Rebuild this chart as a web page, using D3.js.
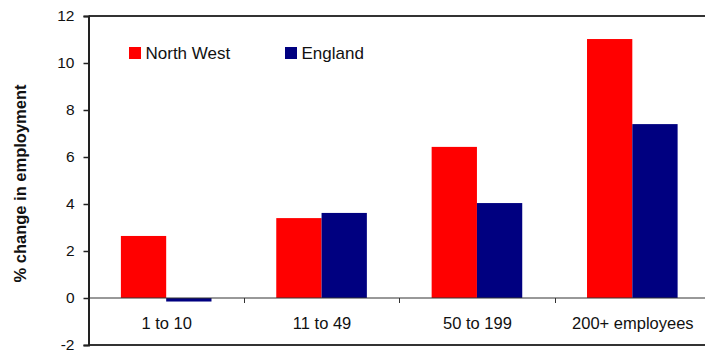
<!DOCTYPE html>
<html>
<head>
<meta charset="utf-8">
<script src="https://cdn.jsdelivr.net/npm/d3@7"></script>
<style>
  html, body { margin: 0; padding: 0; background: #fff; }
  svg { display: block; font-family: "Liberation Sans", Arial, sans-serif; }
</style>
</head>
<body>
<svg id="chart" width="705" height="352"></svg>
<script>
const categories = ["1 to 10", "11 to 49", "50 to 199", "200+ employees"];
const seriesNames = ["North West", "England"];
const northWest = [2.64, 3.40, 6.43, 11.02];
const england = [-0.15, 3.62, 4.04, 7.40];
const yTicks = [-2, 0, 2, 4, 6, 8, 10, 12];
const colors = ["#FF0000", "#000080"];
const yTitle = "% change in employment";

(function () {
const svg = d3.select("#chart");
const pLeft = 88.5, pRight = 710, pTop = 16, pBottom = 345;

const x = d3.scaleBand().domain(categories).range([pLeft, pRight]).padding(0);
const xs = d3.scaleBand().domain(seriesNames).range([0, x.bandwidth()]).paddingInner(0).paddingOuter(0.715);
const y = d3.scaleLinear().domain([-2, 12]).range([pBottom, pTop]);

const values = [northWest, england];
const data = [];
categories.forEach((c, i) => {
  seriesNames.forEach((s, j) => data.push({ c, s, v: values[j][i], color: colors[j] }));
});

// bars
svg.append("g").selectAll("rect").data(data).join("rect")
  .attr("x", d => x(d.c) + xs(d.s))
  .attr("width", xs.bandwidth())
  .attr("y", d => y(Math.max(0, d.v)))
  .attr("height", d => Math.abs(y(d.v) - y(0)))
  .attr("fill", d => d.color);

// zero line with category ticks
const zg = svg.append("g").attr("transform", `translate(0,${y(0)})`);
zg.append("line").attr("x1", pLeft).attr("x2", pRight).attr("y1", 0).attr("y2", 0)
  .attr("stroke", "#333").attr("stroke-width", 1);
zg.selectAll("line.tk").data(categories.slice(1)).join("line").attr("class", "tk")
  .attr("x1", d => Math.round(x(d)) + 0.5).attr("x2", d => Math.round(x(d)) + 0.5)
  .attr("y1", 0).attr("y2", 5).attr("stroke", "#333").attr("stroke-width", 1);
zg.selectAll("text.cl").data(categories).join("text").attr("class", "cl")
  .attr("x", d => x(d) + x.bandwidth() / 2 + 0.5)
  .attr("y", 30.5)
  .attr("text-anchor", "middle")
  .attr("font-size", "16.5px")
  .attr("fill", "#111")
  .text(d => d);

// frame: top and bottom lines
svg.append("line").attr("x1", pLeft).attr("x2", pRight).attr("y1", pTop).attr("y2", pTop)
  .attr("stroke", "#333").attr("stroke-width", 2);
svg.append("line").attr("x1", pLeft).attr("x2", pRight).attr("y1", pBottom).attr("y2", pBottom)
  .attr("stroke", "#333").attr("stroke-width", 2);

// y axis
const yAxis = d3.axisLeft(y).tickValues(yTicks).tickSize(5).tickPadding(9).tickFormat(d => String(d));
const yg = svg.append("g").attr("transform", `translate(${pLeft},0)`).call(yAxis);
yg.select(".domain").attr("stroke", "#222").attr("stroke-width", 2);
yg.selectAll(".tick line").attr("stroke", "#222").attr("stroke-width", 1.5);
yg.selectAll(".tick text").attr("font-size", "15.5px").attr("fill", "#111")
  .attr("font-family", "Liberation Sans, Arial, sans-serif");

// y title
svg.append("text")
  .attr("transform", `translate(26,${(82 + 285) / 2}) rotate(-90)`)
  .attr("text-anchor", "middle")
  .attr("font-size", "16.5px")
  .attr("font-weight", "bold")
  .attr("fill", "#111")
  .text(yTitle);

// legend
const legendX = [129, 285];
const lg = svg.append("g");
seriesNames.forEach((s, j) => {
  lg.append("rect").attr("x", legendX[j]).attr("y", 47).attr("width", 12).attr("height", 12).attr("fill", colors[j]);
  lg.append("text").attr("x", legendX[j] + 16.5).attr("y", 59).attr("font-size", "17px").attr("fill", "#111").text(s);
});
})();
</script>
</body>
</html>
